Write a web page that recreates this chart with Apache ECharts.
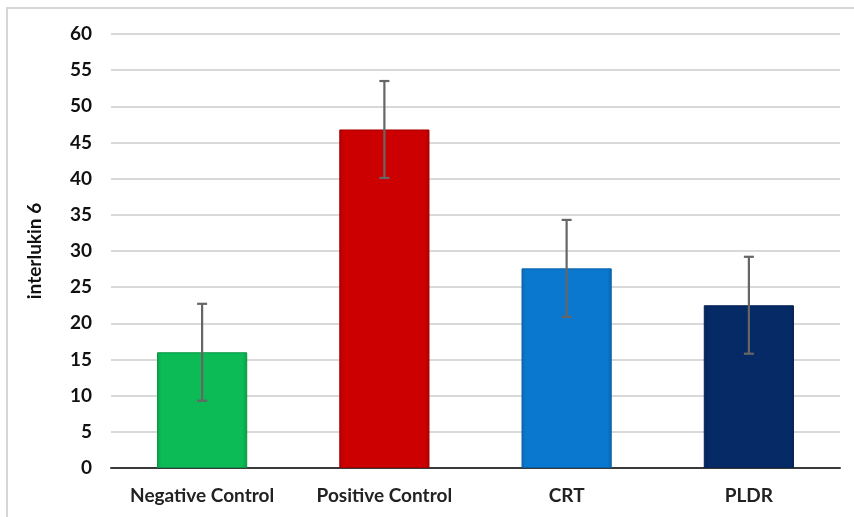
<!DOCTYPE html>
<html>
<head>
<meta charset="utf-8">
<script src="https://cdn.jsdelivr.net/npm/echarts@6/dist/echarts.min.js"></script>
<style>
html,body{margin:0;padding:0;background:#fff;}
#chart{width:854px;height:517px;}
</style>
</head>
<body>
<div id="chart"></div>
<script>
const categories = ['Negative Control', 'Positive Control', 'CRT', 'PLDR'];
const values = [16.0, 46.8, 27.6, 22.5];
const errors = [6.7, 6.7, 6.7, 6.7];
const barColors = ['#0cba56', '#cc0000', '#0b78cf', '#062a66'];
const yTicks = [0, 5, 10, 15, 20, 25, 30, 35, 40, 45, 50, 55, 60];

const chart = echarts.init(document.getElementById('chart'), null, {renderer: 'canvas'});

function shade(hex, f) {
  const n = parseInt(hex.slice(1), 16);
  let r = (n >> 16) & 255, g = (n >> 8) & 255, b = n & 255;
  if (f >= 0) { r += (255 - r) * f; g += (255 - g) * f; b += (255 - b) * f; }
  else { r *= (1 + f); g *= (1 + f); b *= (1 + f); }
  return 'rgb(' + Math.round(r) + ',' + Math.round(g) + ',' + Math.round(b) + ')';
}

const barData = values.map((v, i) => ({
  value: v,
  itemStyle: {
    color: {
      type: 'linear', x: 0, y: 0, x2: 1, y2: 0,
      colorStops: [
        {offset: 0, color: shade(barColors[i], -0.12)},
        {offset: 0.05, color: barColors[i]},
        {offset: 0.95, color: barColors[i]},
        {offset: 1, color: shade(barColors[i], -0.15)}
      ]
    },
    borderColor: shade(barColors[i], -0.2),
    borderWidth: 1
  }
}));

const errData = values.map((v, i) => [i, v - errors[i], v + errors[i]]);
const FONT = 'Lato, "Open Sans", sans-serif';

chart.setOption({
  animation: false,
  textStyle: {fontFamily: FONT},
  graphic: [{
    type: 'rect',
    shape: {x: 7, y: 8, width: 900, height: 600},
    style: {fill: 'none', stroke: '#d6d6d6', lineWidth: 2},
    silent: true,
    z: -10
  }],
  grid: {left: 111, right: 14, top: 34, bottom: 49},
  xAxis: {
    type: 'category',
    data: categories,
    axisLine: {lineStyle: {color: '#3a3a3a', width: 2}},
    axisTick: {show: false},
    axisLabel: {
      interval: 0, hideOverlap: false,
      color: '#222', fontWeight: 'bold', fontSize: 19, margin: 18,
      fontFamily: FONT
    }
  },
  yAxis: {
    type: 'value',
    min: yTicks[0], max: yTicks[yTicks.length - 1], interval: 5,
    name: 'interlukin 6',
    nameLocation: 'middle',
    nameGap: 67,
    nameRotate: 90,
    nameTextStyle: {color: '#111', fontWeight: 'bold', fontSize: 19, fontFamily: FONT},
    axisLine: {show: false},
    axisTick: {show: false},
    axisLabel: {
      color: '#111', fontWeight: 'bold', fontSize: 19, margin: 19,
      fontFamily: FONT
    },
    splitLine: {lineStyle: {color: '#d9d9d9', width: 2}}
  },
  series: [{
    type: 'bar',
    data: barData,
    barWidth: '49.5%',
    z: 2
  }, {
    type: 'custom',
    data: errData,
    z: 5,
    renderItem: function (params, api) {
      const x = api.coord([api.value(0), 0])[0];
      const lo = api.coord([api.value(0), api.value(1)])[1];
      const hi = api.coord([api.value(0), api.value(2)])[1];
      const hw = 5;
      const st = {stroke: '#666', lineWidth: 2.2, fill: null};
      return {
        type: 'group',
        children: [
          {type: 'line', shape: {x1: x, y1: lo, x2: x, y2: hi}, style: st},
          {type: 'line', shape: {x1: x - hw, y1: lo, x2: x + hw, y2: lo}, style: st},
          {type: 'line', shape: {x1: x - hw, y1: hi, x2: x + hw, y2: hi}, style: st}
        ]
      };
    }
  }]
});
</script>
</body>
</html>
